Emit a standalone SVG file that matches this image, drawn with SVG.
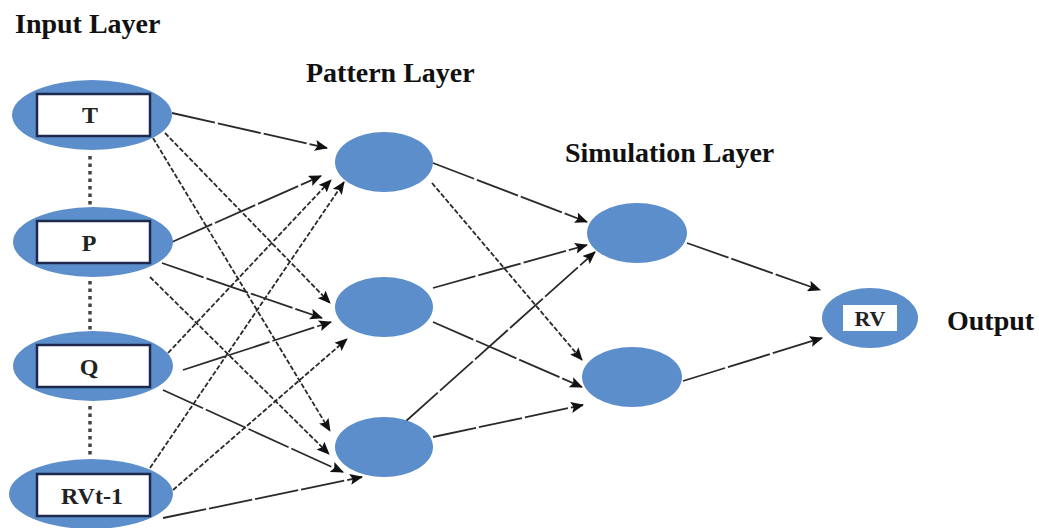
<svg xmlns="http://www.w3.org/2000/svg" width="1039" height="528" viewBox="0 0 1039 528">
  <defs>
    <marker id="arrow" markerUnits="userSpaceOnUse" markerWidth="13" markerHeight="11" viewBox="0 0 13 11" refX="12" refY="5.5" orient="auto">
      <path d="M0,0 L13,5.5 L0,11 L2.5,5.5 Z" fill="#111"/>
    </marker>
    <style>
      .node { fill: #5b8ecb; }
      .box { fill: #ffffff; stroke: #1d2a4d; stroke-width: 2.5; }
      .obox { fill: #ffffff; }
      .lbl { font-family: "Liberation Serif", "Times New Roman", serif; font-weight: bold; font-size: 28px; fill: #111; }
      .var { font-family: "Liberation Serif", "Times New Roman", serif; font-weight: bold; font-size: 24px; fill: #222; text-anchor: middle; }
      .edge { fill: none; stroke: #2a2a2a; stroke-width: 1.8; marker-end: url(#arrow); }
      .long { stroke-dasharray: 44 3; }
      .fine { stroke-dasharray: 5 2; }
      .dots { stroke: #444; stroke-width: 3.5; stroke-dasharray: 3.5 4; }
    </style>
  </defs>

  <rect width="1039" height="528" fill="#ffffff"/>

  <!-- layer captions -->
  <text class="lbl" x="15" y="33">Input Layer</text>
  <text class="lbl" x="306" y="82">Pattern Layer</text>
  <text class="lbl" x="565" y="162">Simulation Layer</text>
  <text class="lbl" x="947" y="330">Output</text>

  <!-- ellipsis dots between input nodes -->
  <g id="input-dots">
    <line class="dots" x1="90" y1="156" x2="90" y2="207"/>
    <line class="dots" x1="90" y1="281" x2="90" y2="330"/>
    <line class="dots" x1="90" y1="406" x2="90" y2="458"/>
  </g>

  <!-- connectors -->
  <g id="connectors">
    <!-- input to pattern -->
    <line class="edge long" x1="172" y1="113" x2="327" y2="148"/>
    <line class="edge fine" x1="165" y1="133" x2="330" y2="303"/>
    <line class="edge fine" x1="153" y1="138" x2="330" y2="431"/>
    <line class="edge long" x1="172" y1="242" x2="321" y2="176"/>
    <line class="edge long" x1="162" y1="263" x2="322" y2="318"/>
    <line class="edge fine" x1="150" y1="277" x2="329" y2="454"/>
    <line class="edge fine" x1="168" y1="353" x2="331" y2="180"/>
    <line class="edge long" x1="183" y1="370" x2="331" y2="322"/>
    <line class="edge long" x1="163" y1="390" x2="343" y2="472"/>
    <line class="edge fine" x1="150" y1="468" x2="344" y2="182"/>
    <line class="edge fine" x1="173" y1="490" x2="347" y2="339"/>
    <line class="edge long" x1="163" y1="518" x2="362" y2="477"/>
    <!-- pattern to simulation -->
    <line class="edge long" x1="433" y1="163" x2="587" y2="222"/>
    <line class="edge fine" x1="432" y1="183" x2="582" y2="360"/>
    <line class="edge long" x1="433" y1="288" x2="587" y2="245"/>
    <line class="edge long" x1="433" y1="322" x2="582" y2="387"/>
    <line class="edge long" x1="405" y1="422" x2="595" y2="252"/>
    <line class="edge long" x1="433" y1="437" x2="583" y2="405"/>
    <!-- simulation to output -->
    <line class="edge long" x1="687" y1="243" x2="820" y2="290"/>
    <line class="edge long" x1="683" y1="381" x2="822" y2="338"/>
  </g>

  <!-- input layer -->
  <g id="input-T">
    <ellipse class="node" cx="92" cy="115" rx="80" ry="35"/>
    <rect class="box" x="37" y="94" width="113" height="42"/>
    <text class="var" x="90" y="123">T</text>
  </g>
  <g id="input-P">
    <ellipse class="node" cx="93" cy="242" rx="80" ry="35"/>
    <rect class="box" x="37" y="221" width="113" height="42"/>
    <text class="var" x="89" y="251">P</text>
  </g>
  <g id="input-Q">
    <ellipse class="node" cx="93" cy="366" rx="80" ry="35"/>
    <rect class="box" x="37" y="345" width="113" height="42"/>
    <text class="var" x="89" y="375">Q</text>
  </g>
  <g id="input-RVt-1">
    <ellipse class="node" cx="91" cy="494" rx="82" ry="35"/>
    <rect class="box" x="37" y="474" width="113" height="42"/>
    <text class="var" x="92" y="504">RVt-1</text>
  </g>

  <!-- pattern layer -->
  <g id="pattern-1"><ellipse class="node" cx="384" cy="162" rx="49" ry="30"/></g>
  <g id="pattern-2"><ellipse class="node" cx="384" cy="307" rx="49" ry="30"/></g>
  <g id="pattern-3"><ellipse class="node" cx="384" cy="447" rx="49" ry="30"/></g>

  <!-- simulation layer -->
  <g id="simulation-1"><ellipse class="node" cx="637" cy="233" rx="50" ry="30"/></g>
  <g id="simulation-2"><ellipse class="node" cx="632" cy="377" rx="50" ry="30"/></g>

  <!-- output -->
  <g id="output-RV">
    <ellipse class="node" cx="870" cy="318" rx="48" ry="30"/>
    <rect class="obox" x="843" y="305" width="54" height="26"/>
    <text class="var" x="870" y="326" style="font-size:22px">RV</text>
  </g>
</svg>
